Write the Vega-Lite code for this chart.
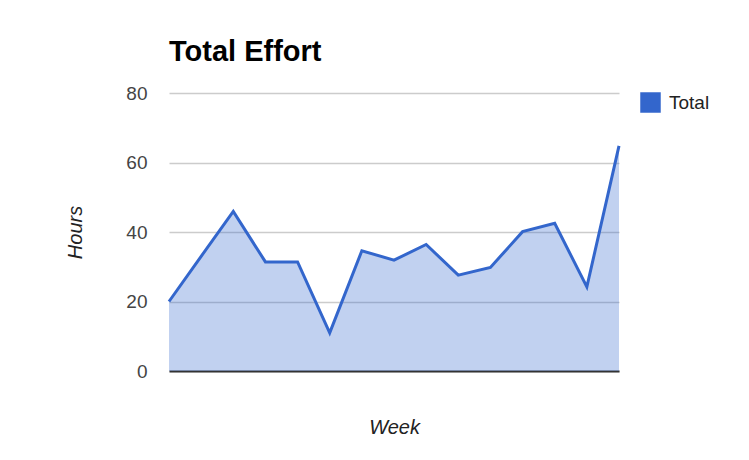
{
  "$schema": "https://vega.github.io/schema/vega-lite/v6.json",
  "autosize": {"type": "none"},
  "width": 450,
  "height": 278,
  "padding": {"left": 169, "top": 93, "right": 130, "bottom": 89},
  "background": "white",
  "title": {
    "text": "Total Effort",
    "anchor": "start",
    "frame": "group",
    "font": "Liberation Sans",
    "fontSize": 29,
    "fontWeight": "bold",
    "color": "#000000",
    "baseline": "alphabetic",
    "offset": -6
  },
  "config": {
    "view": {"stroke": null},
    "font": "Liberation Sans"
  },
  "data": {
    "values": [
      {"week": 1, "hours": 20.0, "series": "Total"},
      {"week": 2, "hours": 33.0, "series": "Total"},
      {"week": 3, "hours": 45.9, "series": "Total"},
      {"week": 4, "hours": 31.4, "series": "Total"},
      {"week": 5, "hours": 31.4, "series": "Total"},
      {"week": 6, "hours": 11.0, "series": "Total"},
      {"week": 7, "hours": 34.6, "series": "Total"},
      {"week": 8, "hours": 31.9, "series": "Total"},
      {"week": 9, "hours": 36.4, "series": "Total"},
      {"week": 10, "hours": 27.6, "series": "Total"},
      {"week": 11, "hours": 29.8, "series": "Total"},
      {"week": 12, "hours": 40.1, "series": "Total"},
      {"week": 13, "hours": 42.5, "series": "Total"},
      {"week": 14, "hours": 24.2, "series": "Total"},
      {"week": 15, "hours": 64.8, "series": "Total"}
    ]
  },
  "encoding": {
    "x": {
      "field": "week",
      "type": "quantitative",
      "scale": {"domain": [1, 15], "nice": false, "zero": false},
      "axis": {
        "title": "Week",
        "titleFont": "Liberation Sans",
        "titleFontSize": 20,
        "titleFontStyle": "italic",
        "titleFontWeight": "normal",
        "titleColor": "#222222",
        "titlePadding": 46,
        "labels": false,
        "ticks": false,
        "grid": false,
        "domain": true,
        "domainColor": "#333333",
        "domainWidth": 2
      }
    },
    "y": {
      "field": "hours",
      "type": "quantitative",
      "scale": {"domain": [0, 80], "nice": false},
      "axis": {
        "title": "Hours",
        "titleFont": "Liberation Sans",
        "titleFontSize": 20,
        "titleFontStyle": "italic",
        "titleFontWeight": "normal",
        "titleColor": "#222222",
        "titlePadding": 40,
        "values": [0, 20, 40, 60, 80],
        "labelFontSize": 19,
        "labelColor": "#444444",
        "labelPadding": 22,
        "ticks": false,
        "domain": false,
        "grid": true,
        "gridColor": "#cccccc",
        "gridWidth": 1.5
      }
    }
  },
  "layer": [
    {
      "mark": {"type": "area", "opacity": 0.3},
      "encoding": {
        "color": {
          "field": "series",
          "type": "nominal",
          "scale": {"range": ["#3366cc"]},
          "legend": {
            "title": null,
            "orient": "none",
            "legendX": 471,
            "legendY": -1,
            "symbolType": "square",
            "symbolSize": 420,
            "symbolOpacity": 1,
            "symbolFillColor": "#3366cc",
            "symbolStrokeWidth": 0,
            "labelFontSize": 19,
            "labelColor": "#222222",
            "labelOffset": 8
          }
        }
      }
    },
    {
      "mark": {"type": "line", "color": "#3366cc", "strokeWidth": 3},
      "encoding": {}
    }
  ]
}
